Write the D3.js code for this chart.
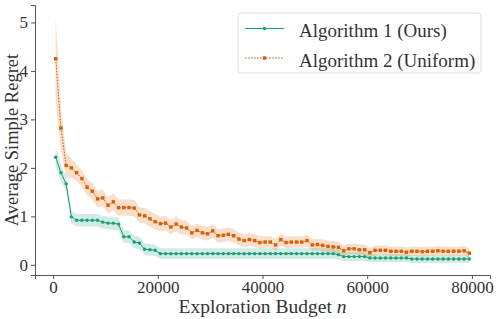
<!DOCTYPE html>
<html>
<head>
<meta charset="utf-8">
<script src="https://cdn.jsdelivr.net/npm/d3@7"></script>
</head>
<body style="margin:0">
<script>
var budgets = [500, 1500, 2500, 3500, 4500, 5500, 6500, 7500, 8500, 9500,
  10500, 11500, 12500, 13500, 14500, 15500, 16500, 17500, 18500, 19500,
  20500, 21500, 22500, 23500, 24500, 25500, 26500, 27500, 28500, 29500,
  30500, 31500, 32500, 33500, 34500, 35500, 36500, 37500, 38500, 39500,
  40500, 41500, 42500, 43500, 44500, 45500, 46500, 47500, 48500, 49500,
  50500, 51500, 52500, 53500, 54500, 55500, 56500, 57500, 58500, 59500,
  60500, 61500, 62500, 63500, 64500, 65500, 66500, 67500, 68500, 69500,
  70500, 71500, 72500, 73500, 74500, 75500, 76500, 77500, 78500, 79500];

// Algorithm 1 (Ours)
var alg1Mean = [2.22, 1.90, 1.67, 0.99, 0.92, 0.92, 0.92, 0.92, 0.92, 0.88,
  0.86, 0.86, 0.84, 0.58, 0.58, 0.47, 0.45, 0.32, 0.31, 0.30,
  0.23, 0.23, 0.23, 0.23, 0.23, 0.23, 0.23, 0.23, 0.23, 0.23,
  0.23, 0.23, 0.23, 0.23, 0.23, 0.23, 0.23, 0.23, 0.23, 0.23,
  0.23, 0.23, 0.23, 0.23, 0.23, 0.23, 0.23, 0.23, 0.23, 0.23,
  0.23, 0.23, 0.23, 0.23, 0.21, 0.17, 0.17, 0.17, 0.17, 0.17,
  0.14, 0.14, 0.14, 0.14, 0.14, 0.14, 0.14, 0.14, 0.12, 0.12,
  0.12, 0.12, 0.12, 0.12, 0.12, 0.12, 0.12, 0.12, 0.12, 0.12];
var alg1Err = [0.20, 0.17, 0.15, 0.13, 0.13, 0.13, 0.13, 0.13, 0.13, 0.13,
  0.13, 0.13, 0.13, 0.13, 0.13, 0.13, 0.13, 0.12, 0.12, 0.12,
  0.11, 0.11, 0.11, 0.11, 0.11, 0.11, 0.11, 0.11, 0.11, 0.11,
  0.11, 0.11, 0.11, 0.11, 0.11, 0.11, 0.11, 0.11, 0.11, 0.11,
  0.11, 0.11, 0.11, 0.11, 0.11, 0.11, 0.11, 0.11, 0.11, 0.11,
  0.11, 0.11, 0.11, 0.11, 0.10, 0.09, 0.09, 0.09, 0.09, 0.09,
  0.08, 0.08, 0.08, 0.08, 0.08, 0.08, 0.08, 0.08, 0.08, 0.08,
  0.08, 0.08, 0.08, 0.08, 0.08, 0.08, 0.08, 0.08, 0.08, 0.08];

// Algorithm 2 (Uniform)
var alg2Mean = [4.25, 2.82, 2.05, 2.00, 1.90, 1.78, 1.60, 1.52, 1.36, 1.38,
  1.23, 1.30, 1.18, 1.18, 1.18, 1.17, 1.03, 1.01, 0.95, 0.89,
  0.85, 0.86, 0.78, 0.84, 0.78, 0.76, 0.66, 0.71, 0.66, 0.64,
  0.70, 0.60, 0.61, 0.63, 0.60, 0.53, 0.50, 0.52, 0.50, 0.46,
  0.47, 0.47, 0.41, 0.52, 0.46, 0.47, 0.47, 0.47, 0.50, 0.41,
  0.42, 0.40, 0.38, 0.37, 0.36, 0.29, 0.33, 0.33, 0.31, 0.31,
  0.25, 0.30, 0.30, 0.30, 0.28, 0.28, 0.28, 0.26, 0.28, 0.28,
  0.27, 0.28, 0.28, 0.29, 0.28, 0.28, 0.28, 0.28, 0.29, 0.24];
var alg2Err = [0.85, 0.45, 0.25, 0.20, 0.17, 0.17, 0.17, 0.17, 0.17, 0.17,
  0.17, 0.17, 0.17, 0.17, 0.17, 0.17, 0.16, 0.16, 0.16, 0.16,
  0.15, 0.15, 0.15, 0.15, 0.15, 0.14, 0.14, 0.14, 0.14, 0.14,
  0.14, 0.14, 0.14, 0.14, 0.14, 0.13, 0.13, 0.13, 0.13, 0.13,
  0.12, 0.12, 0.12, 0.12, 0.12, 0.12, 0.12, 0.12, 0.12, 0.12,
  0.12, 0.12, 0.12, 0.12, 0.12, 0.11, 0.11, 0.11, 0.11, 0.11,
  0.10, 0.10, 0.10, 0.10, 0.10, 0.10, 0.10, 0.10, 0.10, 0.10,
  0.10, 0.10, 0.10, 0.10, 0.10, 0.10, 0.10, 0.10, 0.10, 0.10];

var seriesNames = ["Algorithm 1 (Ours)", "Algorithm 2 (Uniform)"];
var xTicks = [0, 20000, 40000, 60000, 80000];
var yTicks = [0, 1, 2, 3, 4, 5];

var width = 498, height = 319;
var plot = {left: 35, right: 490, top: 5, bottom: 275};
var serifFont = "'Liberation Serif'";

var x = d3.scaleLinear().domain([-3450, 83450]).range([plot.left, plot.right]);
var y = d3.scaleLinear().domain([-0.21, 5.36]).range([plot.bottom, plot.top]);

var svg = d3.select("body").append("svg")
  .attr("width", width)
  .attr("height", height);

var series = [
  {name: seriesNames[0], mean: alg1Mean, err: alg1Err, color: "#1b9e77", dash: null, marker: "circle"},
  {name: seriesNames[1], mean: alg2Mean, err: alg2Err, color: "#d95f02", dash: "1.6,1.4", marker: "square"}
];

series.forEach(function(s) {
  s.points = budgets.map(function(b, i) {
    return {x: b, y: s.mean[i], lo: s.mean[i] - s.err[i], hi: s.mean[i] + s.err[i]};
  });
});

// bands first
var area = d3.area()
  .x(d => x(d.x))
  .y0(d => y(d.lo))
  .y1(d => y(d.hi));

series.forEach(function(s) {
  svg.append("path")
    .datum(s.points)
    .attr("d", area)
    .attr("fill", s.color)
    .attr("fill-opacity", 0.2);
});

var line = d3.line()
  .x(d => x(d.x))
  .y(d => y(d.y));

series.forEach(function(s) {
  svg.append("path")
    .datum(s.points)
    .attr("d", line)
    .attr("fill", "none")
    .attr("stroke", s.color)
    .attr("stroke-width", 1)
    .attr("stroke-dasharray", s.dash);

  if (s.marker == "circle") {
    svg.selectAll(null)
      .data(s.points)
      .enter().append("circle")
      .attr("cx", d => x(d.x))
      .attr("cy", d => y(d.y))
      .attr("r", 1.7)
      .attr("fill", s.color);
  } else {
    svg.selectAll(null)
      .data(s.points)
      .enter().append("rect")
      .attr("x", d => x(d.x) - 1.7)
      .attr("y", d => y(d.y) - 1.7)
      .attr("width", 3.4)
      .attr("height", 3.4)
      .attr("fill", s.color);
  }
});

// axes
var axisColor = "#555";
var gx = svg.append("g")
  .attr("transform", "translate(0," + plot.bottom + ")")
  .call(d3.axisBottom(x).tickValues(xTicks).tickFormat(d3.format("d")).tickSizeOuter(0).tickSize(4).tickPadding(2));
var gy = svg.append("g")
  .attr("transform", "translate(" + plot.left + ",0)")
  .call(d3.axisLeft(y).tickValues(yTicks).tickFormat(d3.format("d")).tickSizeOuter(0).tickSize(4).tickPadding(3));

[gx, gy].forEach(function(g) {
  g.attr("font-family", null).attr("font-size", null);
  g.select(".domain").attr("stroke", axisColor).attr("stroke-width", 1);
  g.selectAll(".tick line").attr("stroke", axisColor);
  g.selectAll(".tick text")
    .attr("fill", "#333")
    .style("font-family", serifFont)
    .style("font-size", "17px");
});

// axis labels
var xl = svg.append("text")
  .attr("x", (x(0) + x(80000)) / 2)
  .attr("y", 313)
  .attr("text-anchor", "middle")
  .attr("fill", "#333")
  .style("font-family", serifFont)
  .style("font-size", "19.5px");
xl.append("tspan").text("Exploration Budget ");
xl.append("tspan").style("font-style", "italic").text("n");

svg.append("text")
  .attr("transform", "translate(18," + 140 + ") rotate(-90)")
  .attr("text-anchor", "middle")
  .attr("fill", "#333")
  .style("font-family", serifFont)
  .style("font-size", "18.5px")
  .text("Average Simple Regret");

// legend
var legend = svg.append("g").attr("transform", "translate(238,13)");
legend.append("rect")
  .attr("width", 243)
  .attr("height", 60)
  .attr("rx", 3)
  .attr("fill", "white")
  .attr("fill-opacity", 0.8)
  .attr("stroke", "#ddd")
  .attr("stroke-width", 1);

series.forEach(function(s, i) {
  var ly = 15.5 + i * 29.5;
  var row = legend.append("g").attr("transform", "translate(0," + ly + ")");
  row.append("line")
    .attr("x1", 7).attr("x2", 46)
    .attr("y1", 0).attr("y2", 0)
    .attr("stroke", s.color)
    .attr("stroke-width", 1)
    .attr("stroke-dasharray", s.dash);
  if (s.marker == "circle") {
    row.append("circle").attr("cx", 26.5).attr("cy", 0).attr("r", 1.7).attr("fill", s.color);
  } else {
    row.append("rect").attr("x", 24.8).attr("y", -1.7).attr("width", 3.4).attr("height", 3.4).attr("fill", s.color);
  }
  row.append("text")
    .attr("x", 61)
    .attr("y", 8.5)
    .attr("fill", "#333")
    .style("font-family", serifFont)
    .style("font-size", "19px")
    .text(s.name);
});
</script>
</body>
</html>
